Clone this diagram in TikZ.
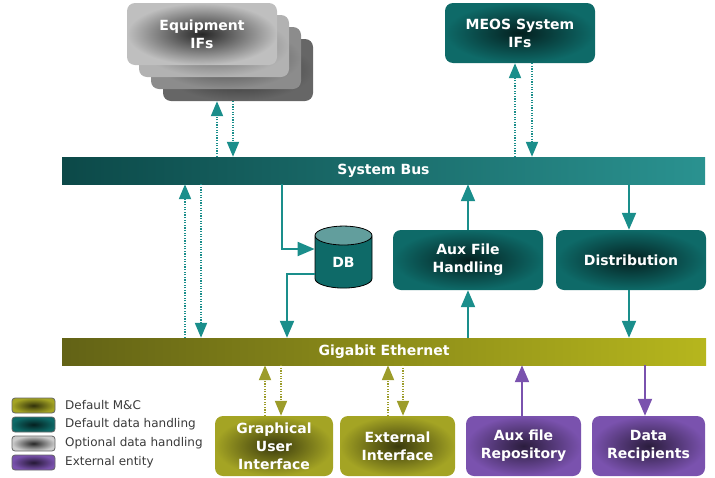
\documentclass[tikz,border=0pt]{standalone}
\usepackage{fontspec}
\setmainfont{DejaVu Sans}
\usetikzlibrary{arrows.meta,shapes.geometric}

\definecolor{boxteal}{HTML}{0E6A68}
\definecolor{busteal}{HTML}{12706F}
\definecolor{busend}{HTML}{2A9290}
\definecolor{arrteal}{HTML}{1A8E8B}
\definecolor{mcolive}{HTML}{A4A424}
\definecolor{arrolive}{HTML}{9C9C2A}
\definecolor{extpurple}{HTML}{7A52AE}
\definecolor{legtxt}{HTML}{3A3A3A}

\tikzset{
  box/.style={rounded corners=8pt, minimum width=150pt, minimum height=60pt,
    inner sep=2pt, align=center, text=white,
    font=\fontsize{14}{18}\selectfont\bfseries},
  tealbox/.style={box, inner color=boxteal!30!black, outer color=boxteal},
  olivebox/.style={box, inner color=mcolive!35!black, outer color=mcolive},
  purplebox/.style={box, inner color=extpurple!35!black, outer color=extpurple},
  bus/.style={minimum height=27pt, inner sep=0pt, text=white,
    font=\fontsize{14}{18}\selectfont\bfseries},
  dotarr/.style={draw=#1, line width=2pt, dash pattern=on 1.2pt off 1.4pt,
    -{Triangle[width=12pt,length=15pt]}},
  solidarr/.style={draw=#1, line width=2pt, -{Triangle[width=14pt,length=17pt]}},
  swatch/.style={rounded corners=3pt, minimum width=43pt, minimum height=15pt,
    draw=black!60, line width=0.8pt},
  legtext/.style={anchor=west, text=legtxt, inner sep=0pt,
    font=\fontsize{12}{14}\selectfont}
}

\begin{document}
\begin{tikzpicture}[x=1pt,y=-1pt]
  \useasboundingbox (0,0) rectangle (715,477);

  % optional equipment interfaces, stacked
  \node[box, minimum height=62pt, inner color=black!85, outer color=black!60] (eqd) at (238,70) {};
  \node[box, minimum height=62pt, inner color=black!75, outer color=black!45] (eqc) at (226,58) {};
  \node[box, minimum height=62pt, inner color=black!65, outer color=black!30] (eqb) at (214,46) {};
  \node[box, minimum height=62pt, inner color=black!85, outer color=black!25] (eqa) at (202,34) {Equipment\\IFs};

  \node[tealbox] (meos) at (520,33) {MEOS System\\IFs};

  % the two buses
  \node[bus, minimum width=643pt, left color=busteal!65!black, right color=busend] (sysbus) at (383.5,170.5) {System Bus};
  \node[bus, minimum width=644pt, left color=mcolive!60!black, right color=mcolive!80!yellow] (gige) at (384,351.5) {Gigabit Ethernet};

  \node[shape=cylinder, shape border rotate=90, aspect=0.85, draw=black, line width=0.8pt,
    cylinder uses custom fill, cylinder body fill=boxteal, cylinder end fill=boxteal!65!white,
    minimum width=57pt, minimum height=62pt, inner sep=0pt, text=white,
    font=\fontsize{14}{18}\selectfont\bfseries] (db) at (343.5,262) {DB};

  \node[tealbox] (aux) at (468,260) {Aux File\\Handling};
  \node[tealbox] (dist) at (631,260) {Distribution};

  \node[olivebox, minimum width=118pt] (gui) at (274,446) {Graphical\\User\\Interface};
  \node[olivebox, minimum width=115pt] (extif) at (397.5,446) {External\\Interface};
  \node[purplebox, minimum width=115pt] (repo) at (523.5,446) {Aux file\\Repository};
  \node[purplebox, minimum width=113pt] (recip) at (648.5,446) {Data\\Recipients};

  % legend
  \node[swatch, inner color=mcolive!30!black, outer color=mcolive] (lgmc) at (33.5,405.5) {};
  \node[swatch, inner color=boxteal!30!black, outer color=boxteal] (lgdh) at (33.5,424.5) {};
  \node[swatch, inner color=black!85, outer color=black!20] (lgoh) at (33.5,443.5) {};
  \node[swatch, inner color=extpurple!30!black, outer color=extpurple] (lgext) at (33.5,462.5) {};
  \node[legtext] (lgmct) at (65,405.5) {Default M\&C};
  \node[legtext] (lgdht) at (65,424.5) {Default data handling};
  \node[legtext] (lgoht) at (65,443.5) {Optional data handling};
  \node[legtext] (lgextt) at (65,462.5) {External entity};

  % connectors
  \draw[dotarr=arrteal] (217,0 |- sysbus.north) -- (217,0 |- eqd.south);
  \draw[dotarr=arrteal] (233,0 |- eqd.south) -- (233,0 |- sysbus.north);
  \draw[dotarr=arrteal] (515,0 |- sysbus.north) -- (515,0 |- meos.south);
  \draw[dotarr=arrteal] (532,0 |- meos.south) -- (532,0 |- sysbus.north);

  \draw[dotarr=arrteal] (185,0 |- gige.north) -- (185,0 |- sysbus.south);
  \draw[dotarr=arrteal] (201,0 |- sysbus.south) -- (201,0 |- gige.north);

  \draw[solidarr=arrteal] (282,0 |- sysbus.south) |- (282,249 -| db.west);
  \draw[solidarr=arrteal] (287,274 -| db.west) -| (287,0 |- gige.north);

  \draw[solidarr=arrteal] (aux.south |- gige.north) -- (aux.south);
  \draw[solidarr=arrteal] (aux.north) -- (aux.north |- sysbus.south);
  \draw[solidarr=arrteal] (629,0 |- sysbus.south) -- (629,0 |- dist.north);
  \draw[solidarr=arrteal] (629,0 |- dist.south) -- (629,0 |- gige.north);

  \draw[dotarr=arrolive] (265,0 |- gui.north) -- (265,0 |- gige.south);
  \draw[dotarr=arrolive] (281,0 |- gige.south) -- (281,0 |- gui.north);
  \draw[dotarr=arrolive] (388,0 |- extif.north) -- (388,0 |- gige.south);
  \draw[dotarr=arrolive] (403,0 |- gige.south) -- (403,0 |- extif.north);

  \draw[solidarr=extpurple] (522,0 |- repo.north) -- (522,0 |- gige.south);
  \draw[solidarr=extpurple] (645,0 |- gige.south) -- (645,0 |- recip.north);
\end{tikzpicture}
\end{document}
